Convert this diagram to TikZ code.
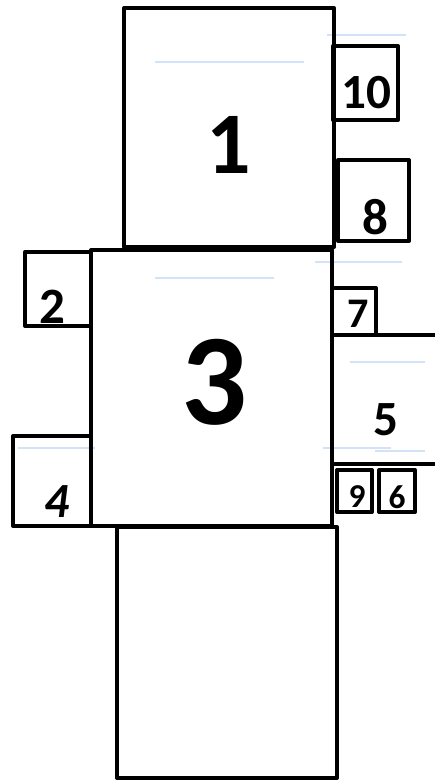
\documentclass[tikz,border=0pt]{standalone}
\usepackage{fontspec}
\setmainfont{Carlito}
\definecolor{guideblue}{RGB}{212,226,248}

\begin{document}
\begin{tikzpicture}[x=0.02cm, y=-0.02cm,
  room/.style={draw, line width=2.3pt, line join=round},
  tag/.style={font=\bfseries\fontsize{#1}{#1}\selectfont, inner sep=0pt},
  faint/.style={draw=guideblue, line width=0.7pt}]
  \useasboundingbox (0,0) rectangle (435,780);
  % faint guide lines
  \draw[faint] (155,62) -- (304,62);
  \draw[faint] (327,35) -- (406,35);
  \draw[faint] (155,278) -- (274,278);
  \draw[faint] (315,262) -- (402,262);
  \draw[faint] (350,362) -- (425,362);
  \draw[faint] (18,448) -- (95,448);
  \draw[faint] (323,448) -- (391,448);
  \draw[faint] (375,451) -- (425,451);
  % rooms
  \draw[room] (124,8) rectangle (334,247);
  \draw[room] (333,46) rectangle (398,120);
  \draw[room] (338,160) rectangle (409,241);
  \draw[room] (91,250) rectangle (332,526);
  \draw[room] (25,252) rectangle (91,326);
  \draw[room] (332,288) rectangle (376,335);
  \draw[room] (436,335) -- (332,335) -- (332,464) -- (436,464);
  \draw[room] (337,470) rectangle (372,512);
  \draw[room] (379,470) rectangle (415,512);
  \draw[room] (13,436) rectangle (91,526);
  \draw[room] (117,527) rectangle (337,778);
  % labels
  \node[tag=50] (n1) at (229,145) {1};
  \node[tag=74] (n3) at (214,382) {3};
  \node[tag=28] (n10) at (366,93) {10};
  \node[tag=29] (n8) at (375,217) {8};
  \node[tag=29] (n2) at (52,307) {2};
  \node[tag=24] (n7) at (358,314) {7};
  \node[tag=28] (n5) at (386,420) {5};
  \node[tag=28, font=\bfseries\itshape\fontsize{28}{28}\selectfont] (n4) at (57,502) {4};
  \node[tag=19] (n9) at (357,497) {9};
  \node[tag=19] (n6) at (397,497) {6};
\end{tikzpicture}
\end{document}
